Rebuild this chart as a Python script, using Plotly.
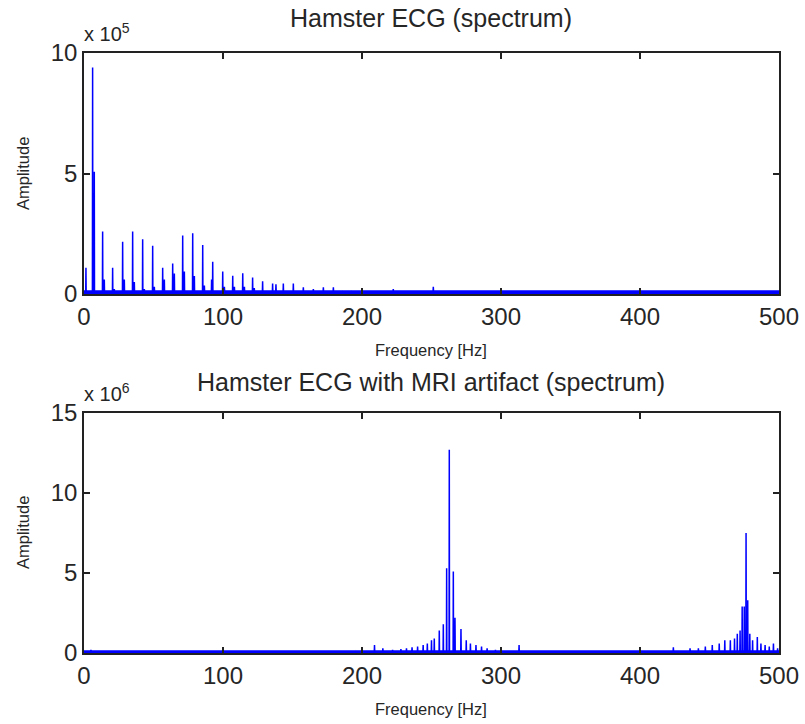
import plotly.graph_objects as go

# ---------------- data ----------------
# Top: Hamster ECG spectrum (amplitude, raw units)
ecg_freq_hz = [1.4, 6.2, 7.4, 13.4, 14.6, 20.6, 21.8, 27.8, 29.0, 35.0, 36.2, 42.2, 43.4,
               49.4, 50.6, 56.6, 57.8, 63.8, 65.0, 71.0, 72.2, 78.2, 79.4, 85.4, 86.6,
               91.8, 92.6, 99.8, 101.0, 107.0, 108.2, 114.2, 115.4, 121.3, 122.5, 128.5,
               135.7, 138.1, 143.4, 150.6, 157.8, 165.0, 172.2, 179.4, 186.0, 192.6,
               208.1, 222.5, 251.3]
ecg_amp = [1.09e5, 9.4e5, 5.07e5, 2.59e5, 0.6e5, 1.09e5, 0.2e5, 2.17e5, 0.6e5, 2.59e5, 0.5e5,
           2.27e5, 0.2e5, 2.0e5, 0.3e5, 1.09e5, 0.6e5, 1.27e5, 0.85e5, 2.43e5, 0.93e5,
           2.52e5, 0.75e5, 2.03e5, 0.35e5, 0.6e5, 1.34e5, 0.93e5, 0.3e5, 0.76e5, 0.3e5,
           0.86e5, 0.3e5, 0.68e5, 0.25e5, 0.53e5, 0.44e5, 0.4e5, 0.44e5, 0.44e5, 0.28e5,
           0.2e5, 0.28e5, 0.28e5, 0.15e5, 0.15e5, 0.12e5, 0.2e5, 0.3e5]
ecg_floor = 0.12e5

# Bottom: Hamster ECG with MRI artifact spectrum
mri_freq_hz = [5.0, 50.0, 195.0, 200.0, 209.0, 215.0, 222.0, 228.0, 232.0, 236.0, 240.0,
               244.0, 247.0, 250.0, 252.0, 255.6, 258.5, 260.9, 262.8, 265.7, 266.9,
               271.2, 275.0, 278.0, 282.0, 286.0, 290.0, 296.0, 313.0, 330.0,
               424.0, 436.0, 442.0, 447.0, 452.0, 457.0, 461.0, 465.0, 468.0, 470.0,
               472.0, 473.5, 475.0, 476.3, 477.5, 479.0, 481.0, 484.4, 487.0, 490.0,
               493.0, 496.0, 499.0]
mri_amp = [0.2e6, 0.1e6, 0.15e6, 0.25e6, 0.5e6, 0.3e6, 0.2e6, 0.25e6, 0.3e6, 0.35e6, 0.4e6,
           0.5e6, 0.6e6, 0.8e6, 0.9e6, 1.4e6, 1.8e6, 5.3e6, 12.7e6, 5.1e6, 2.2e6,
           1.5e6, 0.8e6, 0.6e6, 0.5e6, 0.4e6, 0.3e6, 0.2e6, 0.5e6, 0.1e6,
           0.35e6, 0.3e6, 0.3e6, 0.4e6, 0.5e6, 0.6e6, 0.8e6, 0.8e6, 0.9e6, 1.2e6,
           1.4e6, 2.9e6, 2.9e6, 7.5e6, 3.3e6, 1.2e6, 0.8e6, 1.0e6, 0.6e6, 0.5e6,
           0.4e6, 0.6e6, 0.3e6]
mri_floor = 0.12e6

x_ticks = [0, 100, 200, 300, 400, 500]
top_y_ticks = [0, 5e5, 10e5]
top_y_ticktext = ["0", "5", "10"]
bot_y_ticks = [0, 5e6, 10e6, 15e6]
bot_y_ticktext = ["0", "5", "10", "15"]

# ---------------- helpers ----------------
W, H = 805, 724


def px(x):
    return x / W


def py(y):
    return 1 - y / H


def stems(freqs, amps, floor, half=0.15):
    xs, ys = [0.0], [floor]
    for f, a in sorted(zip(freqs, amps)):
        xs += [f - half, f, f + half]
        ys += [floor, a, floor]
    xs.append(500.0)
    ys.append(floor)
    return xs, ys


BLUE = "#0000ff"
FAM = "Liberation Sans, Arial, sans-serif"
TXT = "#262626"
TICKFONT = dict(family=FAM, size=24, color=TXT)
TITLEFONT = dict(family=FAM, size=25, color=TXT)
LABELFONT = dict(family=FAM, size=16.5, color=TXT)
MULTFONT = dict(family=FAM, size=20, color=TXT)

fig = go.Figure()
tx, ty = stems(ecg_freq_hz, ecg_amp, ecg_floor)
fig.add_trace(go.Scatter(x=tx, y=ty, mode="lines", line=dict(color=BLUE, width=1.5),
                         fill="tozeroy", fillcolor=BLUE,
                         xaxis="x", yaxis="y", showlegend=False, hoverinfo="skip"))
bx, by = stems(mri_freq_hz, mri_amp, mri_floor)
fig.add_trace(go.Scatter(x=bx, y=by, mode="lines", line=dict(color=BLUE, width=1.5),
                         fill="tozeroy", fillcolor=BLUE,
                         xaxis="x2", yaxis="y2", showlegend=False, hoverinfo="skip"))

xdom = [px(84), px(779)]
axis_common = dict(showline=True, linecolor="#222222", linewidth=1.5, mirror="ticks",
                   ticks="inside", ticklen=6, tickcolor="#222222", tickwidth=1.5,
                   showgrid=False, zeroline=False, tickfont=TICKFONT, automargin=False)

fig.update_layout(
    width=W, height=H,
    margin=dict(l=0, r=0, t=0, b=0, pad=0, autoexpand=False),
    paper_bgcolor="white", plot_bgcolor="white",
    showlegend=False,
    xaxis=dict(domain=xdom, range=[0, 500], tickvals=x_ticks, anchor="y", **axis_common),
    yaxis=dict(domain=[py(294), py(53)], range=[0, 10e5], tickvals=top_y_ticks,
               ticktext=top_y_ticktext, anchor="x", **axis_common),
    xaxis2=dict(domain=xdom, range=[0, 500], tickvals=x_ticks, anchor="y2", **axis_common),
    yaxis2=dict(domain=[py(653), py(413)], range=[0, 15e6], tickvals=bot_y_ticks,
                ticktext=bot_y_ticktext, anchor="x2", **axis_common),
)

ann = []


def add_text(text, x, y, font, xanchor="center", yanchor="middle", angle=0):
    ann.append(dict(text=text, x=px(x), y=py(y), xref="paper", yref="paper",
                    xanchor=xanchor, yanchor=yanchor, showarrow=False, textangle=angle,
                    font=font))


add_text("Hamster ECG (spectrum)", 431, 18, TITLEFONT)
add_text("x 10<sup>5</sup>", 82, 47, MULTFONT, xanchor="left", yanchor="bottom")
add_text("Frequency [Hz]", 431, 350, LABELFONT)
add_text("Amplitude", 23, 174, LABELFONT, angle=-90)
add_text("Hamster ECG with MRI artifact (spectrum)", 431, 382, TITLEFONT)
add_text("x 10<sup>6</sup>", 82, 407, MULTFONT, xanchor="left", yanchor="bottom")
add_text("Frequency [Hz]", 431, 709, LABELFONT)
add_text("Amplitude", 23, 533, LABELFONT, angle=-90)

fig.update_layout(annotations=ann)
fig.write_html("out.html")
